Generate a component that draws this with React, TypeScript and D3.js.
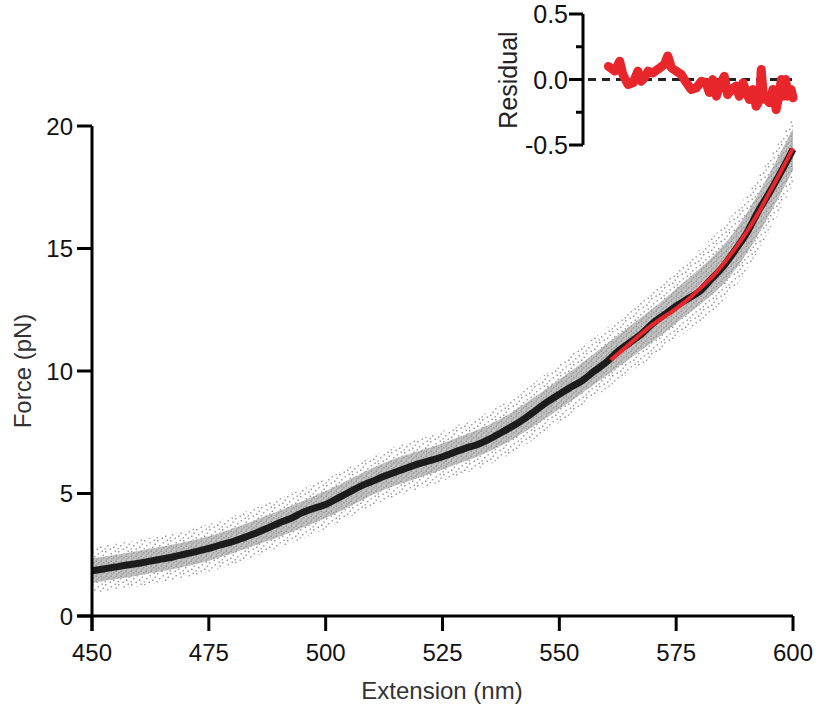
import React from "react";
import * as d3 from "d3";

// ---- Data ----
const meanExt = [450,452.5,455,457.5,460,462.5,465,467.5,470,472.5,475,477.5,480,482.5,485,487.5,490,492.5,495,497.5,500,502.5,505,507.5,510,512.5,515,517.5,520,522.5,525,527.5,530,532.5,535,537.5,540,542.5,545,547.5,550,552.5,555,557.5,560,562.5,565,567.5,570,572.5,575,577.5,580,582.5,585,587.5,590,592.5,595,597.5,600];
const meanForce = [1.85,1.92,2.0,2.08,2.15,2.24,2.33,2.42,2.53,2.64,2.76,2.9,3.03,3.2,3.38,3.58,3.8,3.98,4.22,4.4,4.55,4.8,5.05,5.3,5.5,5.7,5.88,6.05,6.22,6.35,6.5,6.68,6.85,7.0,7.22,7.48,7.75,8.05,8.4,8.75,9.05,9.35,9.62,10.0,10.35,10.8,11.15,11.5,11.95,12.3,12.65,12.95,13.25,13.75,14.25,14.9,15.6,16.5,17.3,18.15,19.05];

const fitExt = [561,565,570,575,578,580,583,585,588,590,593,595,597,600];
const fitForce = [10.45,11.1,11.9,12.55,13.0,13.35,13.9,14.35,15.1,15.65,16.6,17.3,18.0,19.1];

const bandExt = [450,462.5,475,487.5,500,512.5,525,537.5,550,562.5,575,587.5,600];
const bandInnerLo = [1.35,1.74,2.26,3.06,4.0,5.15,5.98,6.95,8.45,10.15,11.95,14.1,18.2];
const bandInnerHi = [2.35,2.75,3.26,4.1,5.1,6.25,7.05,8.05,9.65,11.45,13.35,15.7,19.9];
const bandOuterLo = [0.95,1.3,1.8,2.6,3.55,4.7,5.5,6.4,7.9,9.6,11.3,13.4,17.6];
const bandOuterHi = [2.8,3.2,3.75,4.6,5.6,6.75,7.55,8.6,10.3,12.1,14.1,16.5,20.4];

const resExt = [560.5,561.9,562.9,563.6,564.7,565.8,566.8,567.5,568.2,569.0,570.0,571.5,572.5,573.2,574.0,575.0,576.1,577.2,578.2,579.3,580.4,581.4,582.1,582.8,583.6,584.3,585.3,586.0,586.8,587.8,588.5,589.3,590.0,590.7,591.4,592.1,592.9,593.2,593.6,594.3,595.0,595.7,596.4,597.1,597.5,597.8,598.4,598.9,599.6,600.0];
const resVal = [0.10,0.064,0.14,0.038,-0.038,-0.025,0.064,-0.013,0.013,0.064,0.05,0.089,0.115,0.18,0.089,0.064,0.038,-0.025,-0.076,-0.064,-0.013,-0.025,-0.10,0.0,-0.127,-0.05,0.025,-0.115,-0.076,-0.05,-0.127,-0.025,-0.10,-0.153,-0.076,-0.204,-0.153,0.076,-0.10,-0.153,-0.178,-0.076,-0.229,-0.10,0.0,-0.127,0.0,-0.127,-0.076,-0.14];

const xTicks = [450,475,500,525,550,575,600];
const yTicks = [0,5,10,15,20];
const resMajorTicks = [0.5,0,-0.5];
const resMinorTicks = [0.25,-0.25];
const resTickLabels = ["0.5","0.0","-0.5"];

const FONT = "'Liberation Sans', Arial, Helvetica, sans-serif";

export default function App() {
  const x = d3.scaleLinear().domain([450, 600]).range([92, 793]);
  const y = d3.scaleLinear().domain([0, 20]).range([616, 126]);
  const yr = d3.scaleLinear().domain([-0.5, 0.5]).range([145, 14]);

  const line = d3.line<[number, number]>().x(d => x(d[0])).y(d => y(d[1])).curve(d3.curveMonotoneX);
  const area = (lo: number[], hi: number[]) =>
    d3.area<number>()
      .x((_, i) => x(bandExt[i]))
      .y0((_, i) => y(lo[i]))
      .y1((_, i) => y(hi[i]))
      .curve(d3.curveMonotoneX)(bandExt) || "";

  const meanPath = line(meanExt.map((e, i) => [e, meanForce[i]]) as [number, number][]) || "";
  const fitPath = line(fitExt.map((e, i) => [e, fitForce[i]]) as [number, number][]) || "";
  const resPath = d3.line<number>().x((_, i) => x(resExt[i])).y(d => yr(d)).curve(d3.curveLinear)(resVal) || "";

  const ax = 92, ay = 616, rx = 583;

  return (
    <svg width={817} height={708} style={{ position: "absolute", left: 0, top: 0, background: "#fff" }}>
      <defs>
        <pattern id="sparse" width="13" height="11" patternUnits="userSpaceOnUse">
          <rect x="1" y="1" width="1.5" height="1.5" fill="#9a9a9a" />
          <rect x="6.5" y="3" width="1.5" height="1.5" fill="#a5a5a5" />
          <rect x="10.5" y="0.5" width="1.5" height="1.5" fill="#9d9d9d" />
          <rect x="3" y="6" width="1.5" height="1.5" fill="#a0a0a0" />
          <rect x="9" y="7.5" width="1.5" height="1.5" fill="#979797" />
          <rect x="0.5" y="9" width="1.5" height="1.5" fill="#a8a8a8" />
          <rect x="5.5" y="9.5" width="1.5" height="1.5" fill="#9c9c9c" />
          <rect x="11.5" y="4.5" width="1.5" height="1.5" fill="#a3a3a3" />
        </pattern>
        <pattern id="dense" width="5" height="5" patternUnits="userSpaceOnUse">
          <rect width="5" height="5" fill="#c2c2c2" />
          <rect x="0.5" y="0.5" width="1.5" height="1.5" fill="#939393" />
          <rect x="3" y="2" width="1.5" height="1.5" fill="#9b9b9b" />
          <rect x="1.2" y="3.4" width="1.4" height="1.4" fill="#a2a2a2" />
        </pattern>
      </defs>

      {/* scatter cloud */}
      <path d={area(bandOuterLo, bandOuterHi)} fill="url(#sparse)" />
      <path d={area(bandInnerLo, bandInnerHi)} fill="url(#dense)" />

      {/* mean trace */}
      <path d={meanPath} fill="none" stroke="#1c1c1c" strokeWidth={7} strokeLinejoin="round" strokeLinecap="butt" />
      {/* fit */}
      <path d={fitPath} fill="none" stroke="#e8262b" strokeWidth={4} strokeLinecap="butt" />

      {/* main axes */}
      <line x1={ax} y1={126} x2={ax} y2={ay + 15} stroke="#000" strokeWidth={3} />
      <line x1={ax - 15} y1={ay} x2={793} y2={ay} stroke="#000" strokeWidth={3} />
      {xTicks.map(t => (
        <g key={"x" + t}>
          <line x1={x(t)} x2={x(t)} y1={ay} y2={ay + 15} stroke="#000" strokeWidth={3} />
          <text x={x(t)} y={661} textAnchor="middle" fontFamily={FONT} fontSize={24} fill="#111">{t}</text>
        </g>
      ))}
      {yTicks.map(t => (
        <g key={"y" + t}>
          <line x1={ax - 15} x2={ax} y1={y(t)} y2={y(t)} stroke="#000" strokeWidth={3} />
          <text x={73} y={y(t) + 8.5} textAnchor="end" fontFamily={FONT} fontSize={24} fill="#111">{t}</text>
        </g>
      ))}
      <text x={442} y={699} textAnchor="middle" fontFamily={FONT} fontSize={24} fill="#333">Extension (nm)</text>
      <text transform="translate(31,371) rotate(-90)" textAnchor="middle" fontFamily={FONT} fontSize={24} fill="#333">Force (pN)</text>

      {/* inset residual */}
      <line x1={588} x2={793} y1={yr(0)} y2={yr(0)} stroke="#222" strokeWidth={3} strokeDasharray="8,6" />
      <path d={resPath} fill="none" stroke="#e8262b" strokeWidth={9} strokeLinejoin="round" strokeLinecap="round" />
      <line x1={rx} x2={rx} y1={yr(0.5)} y2={yr(-0.5)} stroke="#000" strokeWidth={3} />
      {resMajorTicks.map((t, i) => (
        <g key={"r" + t}>
          <line x1={rx - 14} x2={rx} y1={yr(t)} y2={yr(t)} stroke="#000" strokeWidth={3} />
          <text x={568} y={yr(t) + 9} textAnchor="end" fontFamily={FONT} fontSize={25} fill="#111">{resTickLabels[i]}</text>
        </g>
      ))}
      {resMinorTicks.map(t => (
        <line key={"m" + t} x1={rx - 7} x2={rx} y1={yr(t)} y2={yr(t)} stroke="#000" strokeWidth={3} />
      ))}
      <text transform="translate(517,80) rotate(-90)" textAnchor="middle" fontFamily={FONT} fontSize={25} fill="#222">Residual</text>
    </svg>
  );
}
